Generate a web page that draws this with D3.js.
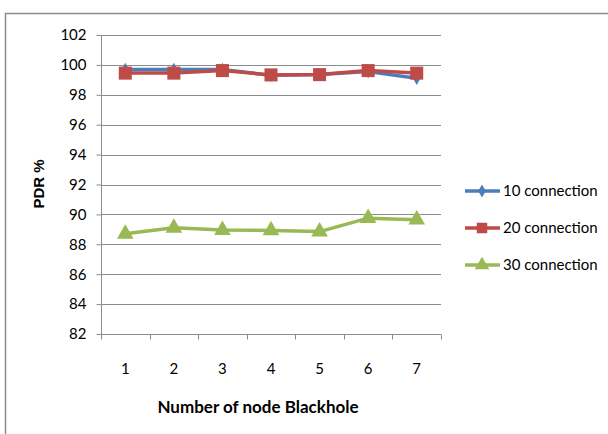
<!DOCTYPE html>
<html>
<head>
<meta charset="utf-8">
<script src="https://cdn.jsdelivr.net/npm/d3@7"></script>
<style>
  html, body { margin: 0; padding: 0; background: #fff; }
  svg { display: block; }
</style>
</head>
<body>
<svg id="chart" width="608" height="434"></svg>
<script>
// Packet delivery ratio versus number of blackhole nodes
const categories = ["1", "2", "3", "4", "5", "6", "7"];
const seriesNames = ["10 connection", "20 connection", "30 connection"];
const conn10 = [99.7, 99.7, 99.7, 99.3, 99.35, 99.55, 99.1];
const conn20 = [99.45, 99.45, 99.62, 99.33, 99.35, 99.62, 99.45];
const conn30 = [88.7, 89.1, 88.95, 88.93, 88.85, 89.75, 89.65];
const yTicks = [82, 84, 86, 88, 90, 92, 94, 96, 98, 100, 102];
const colors = ["#4a7ebb", "#be4b48", "#98b954"];
const markers = ["diamond", "square", "triangle"];

const svg = d3.select("#chart");
const font = "'Lato', 'Open Sans', sans-serif";

// frame
svg.append("rect")
  .attr("x", 5.5).attr("y", 13.5)
  .attr("width", 640).attr("height", 460)
  .attr("fill", "none").attr("stroke", "#8c8c8c").attr("stroke-width", 1.5);

const plotLeft = 101, plotRight = 441, plotTop = 35, plotBottom = 334;
const x = d3.scaleBand().domain(categories).range([plotLeft, plotRight]);
const y = d3.scaleLinear().domain([82, 102]).range([plotBottom, plotTop]);

// gridlines
svg.append("g").selectAll("line").data(yTicks.filter(d => d !== 82)).join("line")
  .attr("x1", plotLeft).attr("x2", plotRight)
  .attr("y1", d => Math.round(y(d)) + 0.5).attr("y2", d => Math.round(y(d)) + 0.5)
  .attr("stroke", "#8c8c8c").attr("stroke-width", 1);

// y axis
const yAxis = svg.append("g").attr("transform", `translate(${plotLeft + 0.5},0)`)
  .call(d3.axisLeft(y).tickValues(yTicks).tickSize(5).tickPadding(10).tickFormat(d3.format("d")));
yAxis.select(".domain").attr("stroke", "#8c8c8c").attr("d", `M0,${y(102)}V${y(82)}`);
yAxis.selectAll(".tick line").attr("stroke", "#8c8c8c");
yAxis.selectAll(".tick text").attr("font-family", font).attr("font-size", 15).attr("fill", "#000");

// x axis with boundary ticks
const xg = svg.append("g").attr("transform", `translate(0,${Math.round(plotBottom) + 0.5})`);
xg.append("line").attr("x1", plotLeft).attr("x2", plotRight).attr("stroke", "#8c8c8c");
const bounds = categories.map(c => x(c)).concat([plotRight]);
xg.selectAll("line.tk").data(bounds).join("line").attr("class", "tk")
  .attr("x1", d => Math.round(d) + 0.5).attr("x2", d => Math.round(d) + 0.5)
  .attr("y1", 0).attr("y2", 5).attr("stroke", "#8c8c8c");
xg.selectAll("text").data(categories).join("text")
  .attr("x", d => x(d) + x.bandwidth() / 2).attr("y", 39)
  .attr("text-anchor", "middle")
  .attr("font-family", font).attr("font-size", 15).attr("fill", "#000")
  .text(d => d);

// axis titles
svg.append("text")
  .attr("x", 258).attr("y", 413).attr("text-anchor", "middle")
  .attr("font-family", font).attr("font-weight", "bold").attr("font-size", 17)
  .text("Number of node Blackhole");
svg.append("text")
  .attr("transform", "translate(44,184) rotate(-90)").attr("text-anchor", "middle")
  .attr("font-family", "'Liberation Sans', Arial, sans-serif").attr("font-weight", "bold").attr("font-size", 15)
  .text("PDR %");

function markerPath(type, size) {
  if (type === "diamond") return d3.symbol(d3.symbolDiamond, size)();
  if (type === "square") return d3.symbol(d3.symbolSquare, size)();
  return d3.symbol(d3.symbolTriangle, size)();
}
const markerSize = [50, 170, 120];

const allSeries = [conn10, conn20, conn30];
const line = d3.line()
  .x((d, i) => x(categories[i]) + x.bandwidth() / 2)
  .y(d => y(d));

// draw order: 10, 20 (on top of 10), 30
allSeries.forEach((vals, s) => {
  const g = svg.append("g");
  g.append("path").datum(vals)
    .attr("d", line).attr("fill", "none")
    .attr("stroke", colors[s]).attr("stroke-width", 3.5).attr("stroke-linejoin", "round");
  g.selectAll("path.m").data(vals).join("path").attr("class", "m")
    .attr("transform", (d, i) => `translate(${x(categories[i]) + x.bandwidth() / 2},${y(d)})`)
    .attr("d", markerPath(markers[s], markerSize[s]))
    .attr("fill", colors[s]);
});

// legend
const legend = svg.append("g");
seriesNames.forEach((name, s) => {
  const ly = 191 + s * 37;
  legend.append("line").attr("x1", 465).attr("x2", 500).attr("y1", ly).attr("y2", ly)
    .attr("stroke", colors[s]).attr("stroke-width", 3.5);
  legend.append("path").attr("transform", `translate(482,${ly})`)
    .attr("d", markerPath(markers[s], [50, 110, 90][s])).attr("fill", colors[s]);
  legend.append("text").attr("x", 503).attr("y", ly + 5)
    .attr("font-family", font).attr("font-size", 15).attr("fill", "#000")
    .text(name);
});
</script>
</body>
</html>
